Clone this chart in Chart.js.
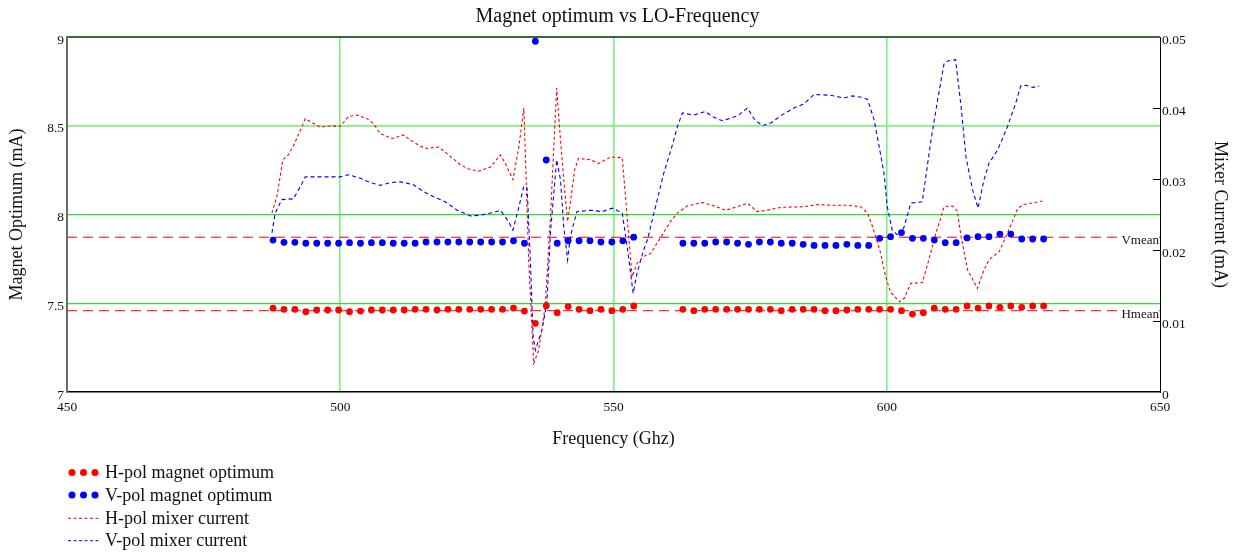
<!DOCTYPE html>
<html>
<head>
<meta charset="utf-8">
<script src="https://cdn.jsdelivr.net/npm/chart.js"></script>
<style>
  html, body { margin: 0; padding: 0; background: #ffffff; }
  #wrap { width: 1235px; height: 555px; }
</style>
</head>
<body>
<div id="wrap"><canvas id="c" width="1235" height="555"></canvas></div>
<script>
// ---------- DATA ----------
const magnetFreq = [487.7, 489.7, 491.7, 493.7, 495.7, 497.7, 499.7, 501.7, 503.7, 505.7, 507.7, 509.7, 511.7, 513.7, 515.7, 517.7, 519.7, 521.7, 523.7, 525.7, 527.7, 529.7, 531.7, 533.7,
  535.7, 537.7, 539.7, 541.7, 543.7, 545.7, 547.7, 549.7, 551.7, 553.7,
  562.7, 564.7, 566.7, 568.7, 570.7, 572.7, 574.7, 576.7, 578.7, 580.7, 582.7, 584.7, 586.7, 588.7, 590.7, 592.7, 594.7, 596.7, 598.7, 600.7, 602.7, 604.7, 606.7, 608.7,
  610.7, 612.7, 614.7, 616.7, 618.7, 620.7, 622.7, 624.7, 626.7, 628.7];

const hMagnet = [7.472, 7.466, 7.466, 7.452, 7.462, 7.462, 7.462, 7.452, 7.456, 7.462, 7.462, 7.462, 7.462, 7.466, 7.466, 7.462, 7.466, 7.466, 7.466, 7.466, 7.466, 7.466, 7.473, 7.456,
  7.387, 7.486, 7.447, 7.481, 7.466, 7.458, 7.466, 7.458, 7.466, 7.485,
  7.466, 7.458, 7.466, 7.466, 7.466, 7.466, 7.466, 7.466, 7.466, 7.458, 7.466, 7.466, 7.466, 7.458, 7.458, 7.462, 7.466, 7.466, 7.466, 7.466, 7.458, 7.439, 7.447, 7.473,
  7.466, 7.466, 7.485, 7.473, 7.485, 7.477, 7.485, 7.477, 7.485, 7.485];

const vMagnet = [7.856, 7.843, 7.843, 7.838, 7.838, 7.838, 7.838, 7.841, 7.838, 7.841, 7.841, 7.838, 7.838, 7.838, 7.845, 7.845, 7.845, 7.845, 7.845, 7.845, 7.845, 7.845, 7.852, 7.838,
  8.976, 8.307, 7.838, 7.852, 7.852, 7.852, 7.845, 7.845, 7.852, 7.872,
  7.838, 7.838, 7.838, 7.845, 7.845, 7.838, 7.832, 7.845, 7.845, 7.838, 7.838, 7.832, 7.826, 7.826, 7.826, 7.832, 7.826, 7.826, 7.866, 7.875, 7.898, 7.866, 7.866, 7.856,
  7.841, 7.841, 7.868, 7.875, 7.875, 7.890, 7.890, 7.862, 7.862, 7.862];

const hMixFreq = [487.5, 488.4, 489.5, 490.5, 491.4, 493.0, 493.6, 494.5, 496.3, 498.5, 500.0, 501.5, 503.1, 504.9, 506.1, 507.3, 509.5, 511.6, 512.8, 514.7, 515.9, 518.0, 519.5, 522.0, 523.5, 525.3, 527.5, 529.3, 530.2, 531.6, 532.7, 533.6,
  534.5, 535.4, 536.3, 537.5, 538.5, 539.6, 540.3, 540.9, 541.6, 542.1, 542.9, 543.6, 545.8, 547.3, 549.5, 551.6, 552.2, 553.4, 554.3, 555.5, 556.8,
  558.9, 560.4, 561.7, 563.5, 566.2, 568.1, 570.5, 572.7, 574.5, 576.3, 578.1, 580.6, 584.9, 587.3, 590.3, 592.8, 595.2, 596.5, 597.4, 598.9, 599.8,
  600.7, 602.3, 603.2, 604.4, 606.5, 607.7, 609.0, 609.6, 610.5, 612.0, 612.9, 613.6, 614.8, 616.6, 617.8, 618.7, 620.6, 622.1, 624.0, 625.1, 628.5];
const hMix = [0.0252, 0.0275, 0.0327, 0.0334, 0.0346, 0.0374, 0.0385, 0.0381, 0.0373, 0.0375, 0.0374, 0.0388, 0.0390, 0.0385, 0.0378, 0.0364, 0.0357, 0.0362, 0.0355, 0.0346, 0.0343, 0.0345, 0.0336, 0.0320, 0.0314, 0.0311, 0.0317, 0.0334, 0.0322, 0.0299, 0.0346, 0.0400,
  0.0181, 0.0040, 0.0059, 0.0120, 0.0252, 0.0428, 0.0355, 0.0299, 0.0240, 0.0266, 0.0313, 0.0329, 0.0327, 0.0322, 0.0331, 0.0330, 0.0275, 0.0162, 0.0181, 0.0191, 0.0195,
  0.0221, 0.0240, 0.0252, 0.0262, 0.0267, 0.0263, 0.0256, 0.0261, 0.0266, 0.0254, 0.0256, 0.0260, 0.0261, 0.0264, 0.0263, 0.0263, 0.0261, 0.0252, 0.0233, 0.0195, 0.0162,
  0.0141, 0.0127, 0.0132, 0.0153, 0.0154, 0.0186, 0.0224, 0.0238, 0.0261, 0.0262, 0.0255, 0.0219, 0.0172, 0.0146, 0.0172, 0.0186, 0.0198, 0.0224, 0.0259, 0.0264, 0.0269];

const vMixFreq = [487.5, 488.1, 489.3, 491.4, 492.7, 493.6, 496.0, 500.0, 501.5, 503.7, 505.5, 507.3, 509.2, 511.0, 513.4, 515.3, 517.1, 519.2, 521.4, 523.8, 525.6, 528.1, 529.3, 530.8, 531.6, 532.7, 533.6, 534.2,
  534.8, 535.3, 535.7, 536.9, 537.8, 538.5, 539.6, 540.3, 540.9, 541.6, 542.1, 543.3, 545.8, 547.9, 549.8, 551.6, 552.5, 553.6, 554.3, 555.5,
  556.2, 557.4, 559.2, 560.7, 561.7, 562.6, 564.7, 566.8, 568.1, 569.9, 572.7, 574.5, 575.7, 577.2, 578.8, 580.6, 583.0, 584.9, 586.7, 589.7, 592.2, 593.7, 595.5, 596.5,
  597.7, 598.6, 599.5, 600.1, 601.0, 602.3, 603.2, 604.4, 606.5, 608.1, 609.3, 610.5, 611.4, 612.6, 613.6, 614.5, 615.7, 616.7, 617.8, 618.7, 620.3, 622.1, 623.6, 624.5, 625.5, 626.7, 627.9];
const vMix = [0.0224, 0.0252, 0.0271, 0.0272, 0.0289, 0.0303, 0.0303, 0.0303, 0.0306, 0.0301, 0.0295, 0.0291, 0.0295, 0.0296, 0.0292, 0.0282, 0.0275, 0.0268, 0.0256, 0.0248, 0.0249, 0.0253, 0.0256, 0.0240, 0.0228, 0.0261, 0.0290, 0.0287,
  0.0182, 0.0078, 0.0059, 0.0087, 0.0125, 0.0228, 0.0327, 0.0299, 0.0233, 0.0186, 0.0219, 0.0254, 0.0256, 0.0254, 0.0259, 0.0252, 0.0205, 0.0139, 0.0167, 0.0200,
  0.0214, 0.0252, 0.0308, 0.0346, 0.0374, 0.0393, 0.0390, 0.0395, 0.0388, 0.0382, 0.0389, 0.0400, 0.0385, 0.0375, 0.0379, 0.0389, 0.0400, 0.0406, 0.0419, 0.0418, 0.0414, 0.0417, 0.0415, 0.0412,
  0.0383, 0.0346, 0.0308, 0.0261, 0.0228, 0.0219, 0.0233, 0.0266, 0.0268, 0.0355, 0.0411, 0.0463, 0.0467, 0.0468, 0.0402, 0.0331, 0.0285, 0.0259, 0.0299, 0.0322, 0.0341, 0.0374, 0.0407, 0.0431, 0.0432, 0.0429, 0.0431];

const vMean = 7.872;
const hMean = 7.458;
const xRange = [450, 650];

const xTicks = [450, 500, 550, 600, 650];
const leftTicks = [7, 7.5, 8, 8.5, 9];
const rightTicks = [0, 0.01, 0.02, 0.03, 0.04, 0.05];

const legendLabels = ['H-pol magnet optimum', 'V-pol magnet optimum', 'H-pol mixer current', 'V-pol mixer current'];
const meanLabels = ['Vmean', 'Hmean'];

// ---------- BUILD ----------
const RED = '#ff0000';
const BLUE = '#0000ff';
const SERIF = '"Liberation Serif", "DejaVu Serif", serif';
const pts = (xs, ys) => xs.map((x, i) => ({ x: x, y: ys[i] }));
const plainNum = v => String(Number(v.toFixed(4)));

const legendPlugin = {
  id: 'customLegend',
  afterDraw(chart) {
    const ctx = chart.ctx;
    ctx.save();
    const rows = [472.5, 495, 518.3, 540.7];
    const kinds = [
      { type: 'dots', color: RED },
      { type: 'dots', color: BLUE },
      { type: 'line', color: RED },
      { type: 'line', color: BLUE }
    ];
    ctx.font = '18px ' + SERIF;
    ctx.textBaseline = 'middle';
    ctx.textAlign = 'left';
    kinds.forEach((k, i) => {
      const y = rows[i];
      if (k.type === 'dots') {
        ctx.fillStyle = k.color;
        [72, 83.5, 95].forEach(x => { ctx.beginPath(); ctx.arc(x, y, 3.5, 0, Math.PI * 2); ctx.fill(); });
      } else {
        ctx.strokeStyle = k.color;
        ctx.lineWidth = 1;
        ctx.setLineDash([3, 2.5]);
        ctx.beginPath(); ctx.moveTo(68, y); ctx.lineTo(99, y); ctx.stroke();
        ctx.setLineDash([]);
      }
      ctx.fillStyle = '#111';
      ctx.fillText(legendLabels[i], 105, y + 1);
    });

    // mean labels
    const ys = chart.scales.y;
    const right = chart.chartArea.right;
    ctx.font = '13px ' + SERIF;
    ctx.textAlign = 'right';
    [[vMean, meanLabels[0]], [hMean, meanLabels[1]]].forEach(([v, t]) => {
      const py = ys.getPixelForValue(v) + 3.5;
      const w = ctx.measureText(t).width;
      ctx.fillStyle = '#ffffff';
      ctx.fillRect(right - w - 2, py - 5, w + 1, 10);
      ctx.fillStyle = '#111';
      ctx.fillText(t, right - 1, py);
    });

    // inward ticks on right axis
    const y2 = chart.scales.y2;
    ctx.strokeStyle = '#000';
    ctx.lineWidth = 1;
    y2.ticks.forEach(tk => {
      if (tk.value <= 0 || tk.value >= 0.05) return;
      const py = Math.round(y2.getPixelForValue(tk.value)) + 0.5;
      ctx.beginPath(); ctx.moveTo(right - 7, py); ctx.lineTo(right, py); ctx.stroke();
    });
    ctx.restore();
  }
};

const tickFont = { family: SERIF, size: 13.5 };
const titleFont = { family: SERIF, size: 18 };

new Chart(document.getElementById('c'), {
  type: 'scatter',
  data: {
    datasets: [
      { label: legendLabels[0], data: pts(magnetFreq, hMagnet), yAxisID: 'y', showLine: false,
        pointRadius: 3.4, pointBorderWidth: 0, backgroundColor: RED, borderColor: RED, pointHoverRadius: 3.4 },
      { label: legendLabels[1], data: pts(magnetFreq, vMagnet), yAxisID: 'y', showLine: false,
        pointRadius: 3.4, pointBorderWidth: 0, backgroundColor: BLUE, borderColor: BLUE, pointHoverRadius: 3.4 },
      { label: legendLabels[2], data: pts(hMixFreq, hMix), yAxisID: 'y2', showLine: true,
        pointRadius: 0, borderColor: RED, borderWidth: 1.1, borderDash: [3, 2.5], tension: 0, fill: false },
      { label: legendLabels[3], data: pts(vMixFreq, vMix), yAxisID: 'y2', showLine: true,
        pointRadius: 0, borderColor: BLUE, borderWidth: 1.1, borderDash: [4, 3], tension: 0, fill: false },
      { label: 'Vmean', data: pts(xRange, [vMean, vMean]), yAxisID: 'y', showLine: true,
        pointRadius: 0, borderColor: RED, borderWidth: 1, borderDash: [10, 6], tension: 0, fill: false },
      { label: 'Hmean', data: pts(xRange, [hMean, hMean]), yAxisID: 'y', showLine: true,
        pointRadius: 0, borderColor: RED, borderWidth: 1, borderDash: [10, 6], tension: 0, fill: false }
    ]
  },
  options: {
    responsive: false,
    animation: false,
    events: [],
    layout: { padding: 0 },
    plugins: {
      legend: { display: false },
      tooltip: { enabled: false },
      title: {
        display: true,
        text: 'Magnet optimum vs LO-Frequency',
        color: '#111',
        font: { family: SERIF, size: 20, weight: 'normal', lineHeight: 1.2 },
        padding: { top: 5, bottom: 8 }
      }
    },
    scales: {
      x: {
        type: 'linear', min: xRange[0], max: xRange[1],
        afterBuildTicks: s => { s.ticks = xTicks.map(v => ({ value: v })); },
        afterFit: s => { s.height = 163; },
        ticks: { color: '#111', font: tickFont, padding: 7, maxRotation: 0, autoSkip: false, callback: v => plainNum(v) },
        grid: {
          drawTicks: false,
          color: c => (c.tick && c.tick.value > 450 && c.tick.value < 650) ? '#7cf07c' : 'rgba(0,0,0,0)',
          lineWidth: 1.6
        },
        border: { display: true, color: '#000', width: 1.5 },
        title: { display: true, text: 'Frequency (Ghz)', color: '#111', font: titleFont, padding: { top: 0, bottom: 105 } }
      },
      y: {
        type: 'linear', position: 'left', min: 7, max: 9,
        afterBuildTicks: s => { s.ticks = leftTicks.map(v => ({ value: v })); },
        afterFit: s => { s.width = 67; },
        ticks: { color: '#111', font: tickFont, padding: 3, labelOffset: 3, callback: v => plainNum(v) },
        grid: {
          drawTicks: false,
          color: c => {
            const v = c.tick ? c.tick.value : null;
            if (v === 9) return '#356b35';
            if (v === 8.5) return '#80f080';
            if (v === 8 || v === 7.5) return '#2ee02e';
            return 'rgba(0,0,0,0)';
          },
          lineWidth: c => {
            const v = c.tick ? c.tick.value : null;
            if (v === 9) return 2;
            if (v === 8.5) return 1.8;
            return 1.2;
          }
        },
        border: { display: true, color: '#6a6a6a', width: 2 },
        title: { display: true, text: 'Magnet Optimum (mA)', color: '#111', font: titleFont, padding: { top: 6, bottom: 0 } }
      },
      y2: {
        type: 'linear', position: 'right', min: 0, max: 0.05,
        afterBuildTicks: s => { s.ticks = rightTicks.map(v => ({ value: v })); },
        afterFit: s => { s.width = 75; },
        ticks: { color: '#111', font: tickFont, padding: 2, labelOffset: 3, callback: v => plainNum(v) },
        grid: { display: true, drawOnChartArea: false, drawTicks: false },
        border: { display: true, color: '#000', width: 1 },
        title: { display: true, text: 'Mixer Current (mA)', color: '#111', font: titleFont, padding: { top: 4, bottom: 0 } }
      }
    }
  },
  plugins: [legendPlugin]
});
</script>
</body>
</html>
